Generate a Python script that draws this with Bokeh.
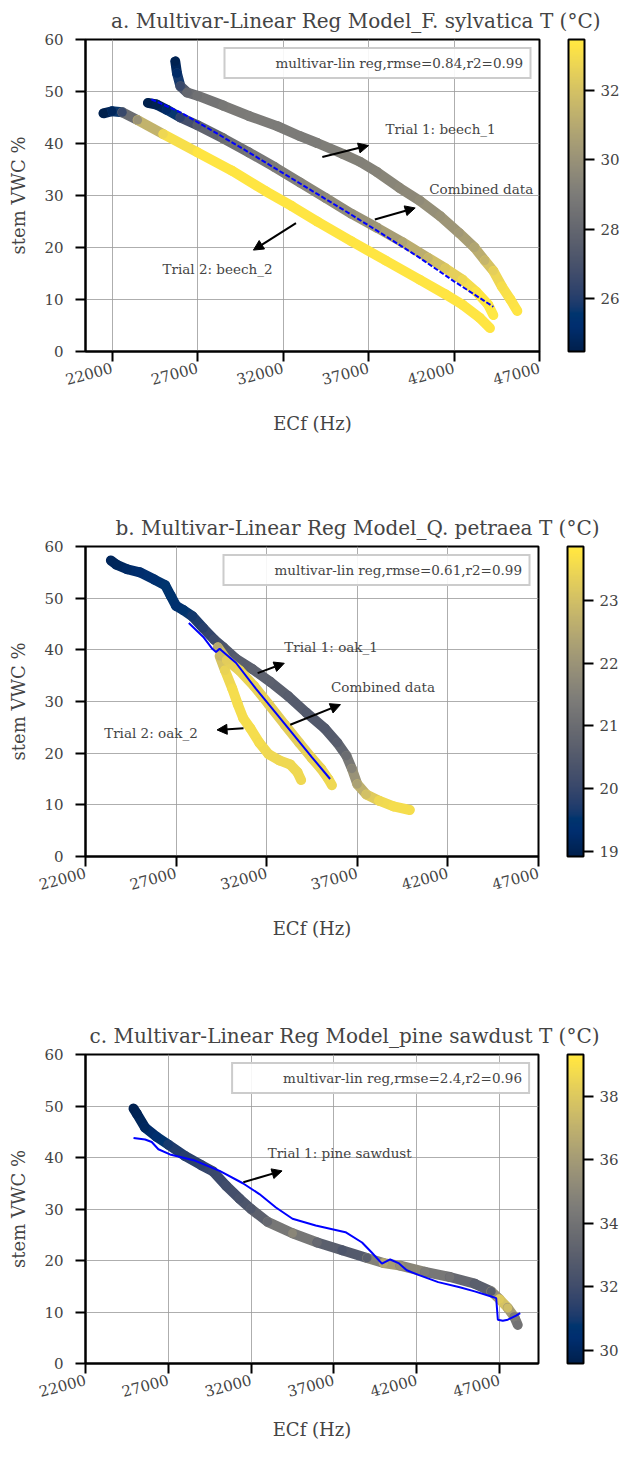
from bokeh.plotting import figure
from bokeh.layouts import column
from bokeh.models import (ColumnDataSource, LinearColorMapper, ColorBar, FixedTicker,
                          Legend, LegendItem, Arrow, NormalHead, Label, Range1d)
from bokeh.palettes import Cividis256
from bokeh.embed import file_html
from bokeh.resources import INLINE

FONT = "DejaVu Serif"

# ---------------- data: panel a (F. sylvatica) ----------------
a_beech1_x = [25700, 25800, 26000, 26400, 27000, 28500, 30000, 31700, 33000, 34000, 35500, 36500,
              37500, 38800, 40000, 41200, 42300, 43200, 43800, 44300, 44800, 45300, 45700]
a_beech1_y = [55.8, 53.5, 51.0, 49.8, 49.2, 47.3, 45.3, 43.3, 41.4, 40.1, 38.0, 36.5,
              34.5, 31.5, 29.0, 26.0, 22.8, 20.0, 17.5, 15.5, 12.5, 10.0, 7.8]
a_beech1_t = [24.6, 25.0, 26.5, 28.0, 28.5, 28.8, 29.0, 29.0, 29.0, 29.0, 29.2, 29.2,
              29.3, 29.5, 29.7, 30.0, 30.3, 30.8, 31.5, 32.5, 33.0, 33.2, 33.3]

a_comb_x = [24100, 24600, 25200, 26000, 27000, 28500, 30000, 31500, 33000, 34500, 36000, 37500,
            39000, 40500, 41500, 42500, 43300, 44000, 44300]
a_comb_y = [47.8, 47.5, 46.5, 45.0, 43.5, 41.0, 38.3, 35.5, 32.5, 29.5, 26.5, 23.8,
            21.0, 18.0, 16.0, 13.8, 11.5, 9.0, 7.0]
a_comb_t = [24.5, 24.6, 25.0, 26.2, 27.5, 28.3, 28.7, 29.0, 29.3, 29.6, 29.8, 30.2,
            30.8, 31.5, 32.2, 32.8, 33.2, 33.4, 33.4]

a_beech2_x = [21500, 22000, 22600, 23500, 25000, 27000, 29000, 31000, 32500, 34000, 36000, 38000,
              40000, 41500, 42500, 43500, 44100]
a_beech2_y = [45.8, 46.2, 46.0, 44.5, 41.8, 38.3, 34.8, 30.8, 28.0, 25.0, 21.2, 17.5,
              13.8, 11.0, 9.0, 6.5, 4.5]
a_beech2_t = [24.5, 24.8, 26.5, 30.0, 32.8, 33.3, 33.3, 33.3, 33.3, 33.3, 33.3, 33.3,
              33.3, 33.3, 33.3, 33.3, 33.3]

a_reg_x = [24300, 26000, 28000, 30000, 32000, 34000, 36000, 38000, 40000, 42000, 44300]
a_reg_y = [48.5, 46.0, 42.2, 38.3, 34.3, 30.3, 26.3, 22.2, 18.0, 13.5, 8.6]

# ---------------- data: panel b (Q. petraea) ----------------
b_oak1_x = [23400, 23700, 24300, 25000, 25800, 26400, 26700, 27000, 27400, 27900, 28500, 29100,
            29600, 30300, 31200, 32200, 33200, 34200, 35200, 35900, 36400, 36700, 37000, 37500,
            38200, 39000, 39900]
b_oak1_y = [57.3, 56.5, 55.6, 55.0, 53.6, 52.5, 50.5, 48.5, 47.7, 46.5, 44.2, 42.0,
            40.5, 38.3, 36.3, 33.8, 31.0, 27.8, 24.8, 22.0, 19.5, 17.0, 14.0, 12.0,
            10.8, 9.7, 9.0]
b_oak1_t = [19.1, 19.1, 19.2, 19.3, 19.4, 19.5, 19.5, 19.4, 19.5, 19.6, 19.8, 20.1,
            20.4, 20.6, 20.7, 20.7, 20.6, 20.5, 20.5, 20.6, 21.0, 21.6, 22.3, 23.0,
            23.5, 23.6, 23.6]

b_oak2_x = [29400, 29700, 30100, 30400, 30700, 31100, 31600, 32100, 32700, 33300, 33700, 33900]
b_oak2_y = [38.8, 36.0, 32.5, 29.5, 26.8, 24.8, 22.0, 19.8, 18.6, 17.8, 16.3, 14.8]
b_oak2_t = [22.8, 23.4, 23.6, 23.6, 23.6, 23.6, 23.6, 23.5, 23.5, 23.5, 23.5, 23.5]

b_comb_x = [29300, 29800, 30500, 31300, 32100, 33000, 33800, 34500, 35000, 35400, 35600]
b_comb_y = [40.5, 38.0, 36.0, 33.0, 29.5, 25.5, 22.0, 19.0, 17.0, 15.0, 13.8]
b_comb_t = [22.5, 23.3, 23.4, 23.4, 23.3, 23.3, 23.3, 23.4, 23.4, 23.5, 23.5]

b_reg_x = [27700, 28500, 29000, 29200, 29400, 29700, 30300, 31400, 32500, 33500, 34500, 35500]
b_reg_y = [45.2, 42.5, 40.2, 39.6, 40.2, 39.3, 37.5, 32.5, 27.8, 23.5, 19.2, 15.0]

# ---------------- data: panel c (pine sawdust) ----------------
c_pine_x = [24900, 25100, 25600, 26300, 27000, 28000, 29000, 29700, 30500, 31300, 32000, 33000,
            34500, 36000, 37500, 39000, 40000, 41000, 42500, 44000, 45500, 46500, 47000, 47500,
            47900, 48100]
c_pine_y = [49.5, 48.5, 45.8, 44.0, 42.5, 40.3, 38.5, 37.3, 34.5, 32.0, 30.0, 27.5,
            25.3, 23.5, 22.0, 20.5, 19.5, 19.0, 17.8, 16.8, 15.5, 14.0, 12.5, 10.8,
            9.0, 7.5]
c_pine_t = [29.7, 29.8, 30.0, 30.5, 31.0, 31.3, 31.5, 31.8, 32.0, 32.3, 32.6, 33.5,
            35.0, 33.5, 32.5, 33.0, 36.5, 35.5, 34.5, 34.0, 33.0, 33.0, 38.0, 37.5,
            34.5, 34.0]

c_reg_x = [24900, 25600, 26000, 26400, 27100, 28600, 30100, 31500, 32500, 33500, 34500, 35900,
           37700, 38700, 39300, 39900, 40400, 40900, 41400, 42100, 43300, 44600, 45500, 46500,
           46800, 46900, 47200, 47500, 48000, 48250]
c_reg_y = [43.8, 43.5, 43.0, 41.6, 40.6, 39.4, 37.4, 35.0, 32.9, 30.3, 28.1, 26.8,
           25.5, 23.5, 21.5, 19.4, 20.2, 19.5, 18.1, 17.2, 15.8, 14.8, 14.0, 13.0,
           12.7, 8.5, 8.3, 8.5, 9.3, 9.8]

# ---------------- axes / text ----------------
x_ticks = [22000, 27000, 32000, 37000, 42000, 47000]
y_ticks = [0, 10, 20, 30, 40, 50, 60]

titles = ["a. Multivar-Linear Reg Model_F. sylvatica",
          "b. Multivar-Linear Reg Model_Q. petraea",
          "c. Multivar-Linear Reg Model_pine sawdust"]
cb_title = "T (°C)"
legend_labels = ["multivar-lin reg,rmse=0.84,r2=0.99",
                 "multivar-lin reg,rmse=0.61,r2=0.99",
                 "multivar-lin reg,rmse=2.4,r2=0.96"]
cb_ranges = [(24.47, 33.47), (18.92, 23.86), (29.59, 39.32)]
cb_ticks = [[26, 28, 30, 32], [19, 20, 21, 22, 23], [30, 32, 34, 36, 38]]
x_ranges = [(20450, 47000), (22000, 47000), (22000, 49355)]

# annotations: (text, text_x, text_y, arrow_x0, arrow_y0, arrow_x1, arrow_y1)
a_notes = [("Trial 1: beech_1", 38000, 42.8, 34300, 37.4, 37000, 39.6),
           ("Combined data", 40550, 31.2, 37370, 25.4, 39730, 27.6),
           ("Trial 2: beech_2", 24950, 15.8, 32760, 24.7, 30270, 19.5)]
b_notes = [("Trial 1: oak_1", 32970, 40.6, 31500, 35.5, 32970, 37.4),
           ("Combined data", 35550, 32.9, 33300, 25.5, 36070, 29.4),
           ("Trial 2: oak_2", 23030, 23.9, 30720, 24.8, 29260, 24.5)]
c_notes = [("Trial 1: pine sawdust", 33000, 40.8, 31530, 35.2, 33870, 37.4)]

# layout geometry (pixels)
frame_w = [454, 453, 453]
frame_h = [312, 310, 309]
border_left = [84, 85, 85]
border_top = [38, 109, 112]
border_bottom = [86, 86, 80]
xlabel_standoff = [20, 20, 14]
cb_gap = 29
title_shift = -61   # right end of the title line sits 61 px right of the frame


def band(p, xs, ys, ts, mapper):
    seg = ColumnDataSource(dict(x0=xs[:-1], y0=ys[:-1], x1=xs[1:], y1=ys[1:],
                                t=[(ts[i] + ts[i + 1]) / 2 for i in range(len(ts) - 1)]))
    p.segment("x0", "y0", "x1", "y1", source=seg, line_width=10, line_cap="round",
              line_color={"field": "t", "transform": mapper})
    pts = ColumnDataSource(dict(x=xs, y=ys, t=ts))
    p.scatter("x", "y", source=pts, size=9, line_color=None,
              fill_color={"field": "t", "transform": mapper})


def make(i, bands, reg_x, reg_y, reg_dash, notes):
    lo, hi = cb_ranges[i]
    x0r, x1r = x_ranges[i]
    mapper = LinearColorMapper(palette=Cividis256, low=lo, high=hi)
    p = figure(frame_width=frame_w[i], frame_height=frame_h[i],
               x_range=Range1d(x0r, x1r), y_range=Range1d(0, 60),
               output_backend="svg", toolbar_location=None,
               min_border_left=border_left[i], min_border_right=82,
               min_border_top=border_top[i], min_border_bottom=border_bottom[i],
               background_fill_color="white", border_fill_color="white")
    # panel title followed by the colour-bar title on the same line
    p.title.text = titles[i] + " " + cb_title
    p.title.text_font = FONT
    p.title.text_font_size = "20px"
    p.title.text_font_style = "normal"
    p.title.align = "right"
    p.title.offset = title_shift
    p.title.standoff = 13

    p.outline_line_color = "black"
    p.outline_line_width = 2
    p.outline_line_alpha = 1

    for ax in (p.xaxis, p.yaxis):
        ax.axis_line_width = 2
        ax.major_tick_line_width = 2
        ax.major_tick_out = 10
        ax.major_tick_in = 0
        ax.minor_tick_line_color = None
        ax.major_label_text_font = FONT
        ax.major_label_text_font_size = "15px"
        ax.axis_label_text_font = FONT
        ax.axis_label_text_font_size = "18px"
        ax.axis_label_text_font_style = "normal"
    p.xaxis.ticker = FixedTicker(ticks=x_ticks)
    p.yaxis.ticker = FixedTicker(ticks=y_ticks)
    p.xaxis.major_label_orientation = 0.26
    p.xaxis.major_label_standoff = 6
    p.yaxis.major_label_standoff = 12
    p.xaxis.axis_label = "ECf (Hz)"
    p.yaxis.axis_label = "stem VWC %"
    p.xaxis.axis_label_standoff = xlabel_standoff[i]
    p.yaxis.axis_label_standoff = 12

    p.xgrid.grid_line_color = "#9a9a9a"
    p.ygrid.grid_line_color = "#9a9a9a"
    p.xgrid.grid_line_width = 1
    p.ygrid.grid_line_width = 1
    p.xgrid.grid_line_alpha = 0.8
    p.ygrid.grid_line_alpha = 0.8

    for xs, ys, ts in bands:
        band(p, xs, ys, ts, mapper)

    p.line(reg_x, reg_y, line_color="blue", line_width=2,
           line_dash=reg_dash if reg_dash else "solid")
    dummy = p.line(x=[], y=[], line_color="blue", line_width=2, line_dash="8 4")
    leg = Legend(items=[LegendItem(label=legend_labels[i], renderers=[dummy])],
                 location="top_right", label_text_font=FONT, label_text_font_size="13.5px",
                 glyph_width=34, glyph_height=14, label_standoff=10, padding=6, margin=8,
                 border_line_color="#cccccc", border_line_width=2, border_line_alpha=1,
                 background_fill_alpha=0.9)
    p.add_layout(leg)

    for txt, tx, ty, ax0, ay0, ax1, ay1 in notes:
        p.add_layout(Label(x=tx, y=ty, text=txt, text_font=FONT, text_font_size="13.5px",
                           text_baseline="middle", text_align="left"))
        p.add_layout(Arrow(end=NormalHead(size=10, fill_color="black", line_color="black"),
                           x_start=ax0, y_start=ay0, x_end=ax1, y_end=ay1,
                           line_width=2, line_color="black"))

    cb = ColorBar(color_mapper=mapper, ticker=FixedTicker(ticks=cb_ticks[i]),
                  width=16, height=frame_h[i], location=(cb_gap, 0), padding=0,
                  major_label_text_font=FONT, major_label_text_font_size="15px",
                  major_tick_out=10, major_tick_in=0, major_tick_line_color="black",
                  major_tick_line_width=2, bar_line_color="black", bar_line_width=2,
                  label_standoff=6, background_fill_alpha=0, border_line_color=None)
    p.add_layout(cb, "right")
    return p


pa = make(0, [(a_beech1_x, a_beech1_y, a_beech1_t),
              (a_beech2_x, a_beech2_y, a_beech2_t),
              (a_comb_x, a_comb_y, a_comb_t)], a_reg_x, a_reg_y, "5 2", a_notes)
pb = make(1, [(b_oak1_x, b_oak1_y, b_oak1_t),
              (b_oak2_x, b_oak2_y, b_oak2_t),
              (b_comb_x, b_comb_y, b_comb_t)], b_reg_x, b_reg_y, None, b_notes)
pc = make(2, [(c_pine_x, c_pine_y, c_pine_t)], c_reg_x, c_reg_y, None, c_notes)

lay = column(pa, pb, pc, spacing=0)
open("out.html", "w").write(file_html(lay, INLINE))
